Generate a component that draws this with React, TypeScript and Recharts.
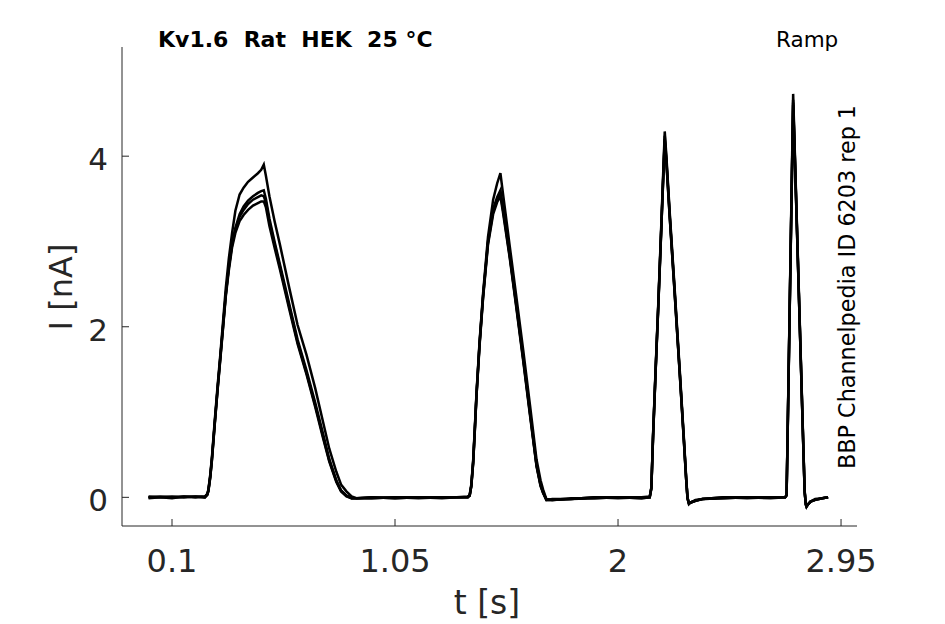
import React from 'react';
import { LineChart, Line, XAxis, YAxis } from 'recharts';

// time (s) shared by every sweep
const timeS = [
  0, 0.05, 0.1, 0.15, 0.2, 0.24, 0.25, 0.255, 0.263, 0.27, 0.282, 0.294, 0.306, 0.318, 0.329, 0.342, 0.356, 0.37, 0.388, 0.405, 0.424, 0.445, 0.466, 0.48, 0.491, 0.5, 0.515, 0.5375, 0.56, 0.6, 0.635, 0.673, 0.71, 0.743, 0.77, 0.8, 0.82, 0.843, 0.865, 0.886, 0.95, 1.05, 1.15, 1.25,
  1.36, 1.368, 1.375, 1.383, 1.39, 1.397, 1.41, 1.425, 1.446, 1.468, 1.485, 1.499, 1.51, 1.539, 1.565, 1.596, 1.625, 1.653, 1.67, 1.681, 1.695, 1.72, 1.8, 1.9, 2.0, 2.1, 2.135,
  2.142, 2.149, 2.16, 2.171, 2.185, 2.193, 2.199, 2.206, 2.22, 2.24, 2.263, 2.28, 2.29, 2.296, 2.302, 2.31, 2.33, 2.36, 2.45, 2.55, 2.65, 2.712,
  2.718, 2.722, 2.73, 2.738, 2.746, 2.752, 2.76, 2.77, 2.78, 2.788, 2.795, 2.8, 2.803, 2.81, 2.82, 2.84, 2.87, 2.895,
];

// current (nA) per sweep
const sweepA = [
  0, 0.01, 0, 0.01, 0, 0.01, 0.04, 0.09, 0.27, 0.47, 0.9, 1.3, 1.68, 2.08, 2.45, 2.8, 3.1, 3.36, 3.55, 3.63, 3.7, 3.75, 3.8, 3.84, 3.9, 3.77, 3.53, 3.23, 2.96, 2.45, 2.02, 1.67, 1.28, 0.89, 0.57, 0.3, 0.15, 0.07, 0.01, -0.01, -0.01, 0, -0.01, 0,
  0, 0.03, 0.15, 0.44, 0.82, 1.22, 1.82, 2.39, 3.05, 3.49, 3.68, 3.8, 3.56, 2.94, 2.39, 1.73, 1.08, 0.44, 0.2, 0.09, -0.02, -0.03, -0.02, -0.01, 0, -0.01, 0,
  0.12, 0.72, 1.5, 2.24, 3.25, 3.85, 4.29, 4.0, 3.35, 2.5, 1.49, 0.72, 0.25, 0, -0.07, -0.06, -0.04, -0.02, -0.01, 0, 0, 0,
  0.03, 0.68, 2.03, 3.38, 4.73, 4.16, 3.4, 2.45, 1.5, 0.74, 0.08, -0.08, -0.11, -0.08, -0.05, -0.03, -0.01, 0,
];
const sweepB = [
  0.01, 0, 0.01, 0, 0.01, 0, 0.03, 0.08, 0.25, 0.45, 0.87, 1.27, 1.65, 2.03, 2.38, 2.7, 2.98, 3.16, 3.32, 3.41, 3.48, 3.53, 3.57, 3.59, 3.6, 3.5, 3.27, 2.99, 2.73, 2.26, 1.85, 1.49, 1.11, 0.75, 0.45, 0.2, 0.08, 0.02, -0.01, -0.01, 0, -0.01, 0, 0,
  0, 0.02, 0.14, 0.42, 0.8, 1.2, 1.8, 2.36, 3.0, 3.38, 3.52, 3.6, 3.4, 2.84, 2.3, 1.64, 1.0, 0.38, 0.15, 0.06, -0.03, -0.03, -0.02, 0, -0.01, 0, 0,
  0.11, 0.7, 1.48, 2.22, 3.22, 3.8, 4.24, 3.96, 3.32, 2.47, 1.46, 0.7, 0.23, -0.01, -0.07, -0.06, -0.04, -0.02, 0, 0, -0.01, 0,
  0.03, 0.66, 2.0, 3.34, 4.66, 4.12, 3.37, 2.42, 1.48, 0.72, 0.07, -0.08, -0.11, -0.08, -0.05, -0.03, -0.01, 0,
];
const sweepC = [
  0, 0, -0.01, 0.01, 0, 0.01, 0.03, 0.08, 0.24, 0.44, 0.86, 1.26, 1.64, 2.02, 2.37, 2.69, 2.96, 3.14, 3.29, 3.37, 3.44, 3.49, 3.52, 3.54, 3.53, 3.46, 3.23, 2.96, 2.7, 2.23, 1.82, 1.46, 1.08, 0.72, 0.43, 0.19, 0.08, 0.02, -0.01, -0.01, -0.01, 0, 0, -0.01,
  0.01, 0.02, 0.13, 0.41, 0.79, 1.19, 1.79, 2.35, 2.98, 3.35, 3.49, 3.56, 3.37, 2.82, 2.28, 1.62, 0.98, 0.37, 0.14, 0.05, -0.03, -0.03, -0.01, -0.01, 0, 0, 0.01,
  0.11, 0.69, 1.47, 2.21, 3.2, 3.78, 4.2, 3.94, 3.3, 2.45, 1.45, 0.69, 0.22, -0.01, -0.07, -0.06, -0.03, -0.02, -0.01, 0, 0, 0,
  0.02, 0.65, 1.99, 3.32, 4.63, 4.1, 3.35, 2.41, 1.47, 0.71, 0.06, -0.08, -0.1, -0.08, -0.05, -0.02, -0.01, 0,
];
const sweepD = [
  -0.01, 0, 0, 0, 0.01, 0, 0.03, 0.07, 0.23, 0.43, 0.85, 1.25, 1.62, 2.0, 2.35, 2.66, 2.93, 3.1, 3.24, 3.31, 3.37, 3.42, 3.45, 3.47, 3.47, 3.4, 3.18, 2.92, 2.67, 2.2, 1.8, 1.44, 1.06, 0.7, 0.42, 0.18, 0.07, 0.01, -0.01, -0.01, 0, -0.01, 0, 0,
  0, 0.02, 0.13, 0.4, 0.78, 1.18, 1.77, 2.33, 2.96, 3.32, 3.46, 3.53, 3.34, 2.8, 2.26, 1.6, 0.96, 0.36, 0.13, 0.05, -0.03, -0.02, -0.02, 0, 0, -0.01, 0,
  0.1, 0.68, 1.46, 2.2, 3.19, 3.76, 4.18, 3.92, 3.29, 2.44, 1.44, 0.68, 0.22, -0.01, -0.08, -0.06, -0.04, -0.02, 0, -0.01, 0, 0,
  0.02, 0.64, 1.98, 3.31, 4.6, 4.08, 3.34, 2.4, 1.46, 0.7, 0.06, -0.09, -0.11, -0.08, -0.05, -0.03, -0.01, 0,
];

const xTicks = [0.1, 1.05, 2, 2.95];
const yTicks = [0, 2, 4];
const xDomain = [-0.113, 3.018];
const yDomain = [-0.336, 5.28];

const titleText = 'Kv1.6  Rat  HEK  25 °C';
const protocolText = 'Ramp';
const sideText = 'BBP Channelpedia ID 6203 rep 1';
const xLabel = 't [s]';
const yLabel = 'I [nA]';

const data = timeS.map((t, i) => ({
  t,
  a: sweepA[i],
  b: sweepB[i],
  c: sweepC[i],
  d: sweepD[i],
}));

const AXIS = '#262626';
const FONT = '"DejaVu Sans", sans-serif';

const XTick = (props: any) => {
  const { x, y, payload } = props;
  return (
    <g>
      <line x1={x} x2={x} y1={y} y2={y - 7} stroke={AXIS} strokeWidth={1} />
      <text x={x} y={y + 46} textAnchor="middle" fontSize={32} fill={AXIS} fontFamily={FONT}>
        {String(payload.value)}
      </text>
    </g>
  );
};

const YTick = (props: any) => {
  const { x, y, payload } = props;
  return (
    <g>
      <line x1={x} x2={x + 7} y1={y} y2={y} stroke={AXIS} strokeWidth={1} />
      <text x={x - 14} y={y + 14} textAnchor="end" fontSize={31} fill={AXIS} fontFamily={FONT}>
        {String(payload.value)}
      </text>
    </g>
  );
};

const sweeps = ['a', 'b', 'c', 'd'];

export default function App() {
  return (
    <div style={{ position: 'absolute', left: 0, top: 0, width: 945, height: 624, background: '#fff' }}>
      <LineChart width={945} height={624} data={data} margin={{ top: 47, right: 88, bottom: 0, left: 0 }}>
        <XAxis
          dataKey="t"
          type="number"
          domain={xDomain}
          ticks={xTicks}
          interval={0}
          height={98}
          tickSize={0}
          tickMargin={0}
          tickLine={false}
          axisLine={{ stroke: AXIS, strokeWidth: 1 }}
          tick={<XTick />}
          allowDataOverflow
        />
        <YAxis
          type="number"
          domain={yDomain}
          ticks={yTicks}
          interval={0}
          width={122}
          tickSize={0}
          tickMargin={0}
          tickLine={false}
          axisLine={{ stroke: AXIS, strokeWidth: 1 }}
          tick={<YTick />}
          allowDataOverflow
        />
        {sweeps.map((k) => (
          <Line
            key={k}
            dataKey={k}
            type="linear"
            stroke="#000"
            strokeWidth={2.5}
            dot={false}
            activeDot={false}
            isAnimationActive={false}
          />
        ))}
        <text x={158} y={47} fontSize={22} fontWeight="bold" fill="#000" fontFamily={FONT} style={{ whiteSpace: 'pre' }}>
          {titleText}
        </text>
        <text x={776} y={47} fontSize={21.5} fill="#000" fontFamily={FONT}>
          {protocolText}
        </text>
        <text x={855} y={287} fontSize={22.3} fill="#000" fontFamily={FONT} textAnchor="middle" transform="rotate(-90 855 287)">
          {sideText}
        </text>
        <text x={487} y={614} fontSize={33} fill={AXIS} fontFamily={FONT} textAnchor="middle">
          {xLabel}
        </text>
        <text x={72} y={287} fontSize={32} fill={AXIS} fontFamily={FONT} textAnchor="middle" transform="rotate(-90 72 287)">
          {yLabel}
        </text>
      </LineChart>
    </div>
  );
}
